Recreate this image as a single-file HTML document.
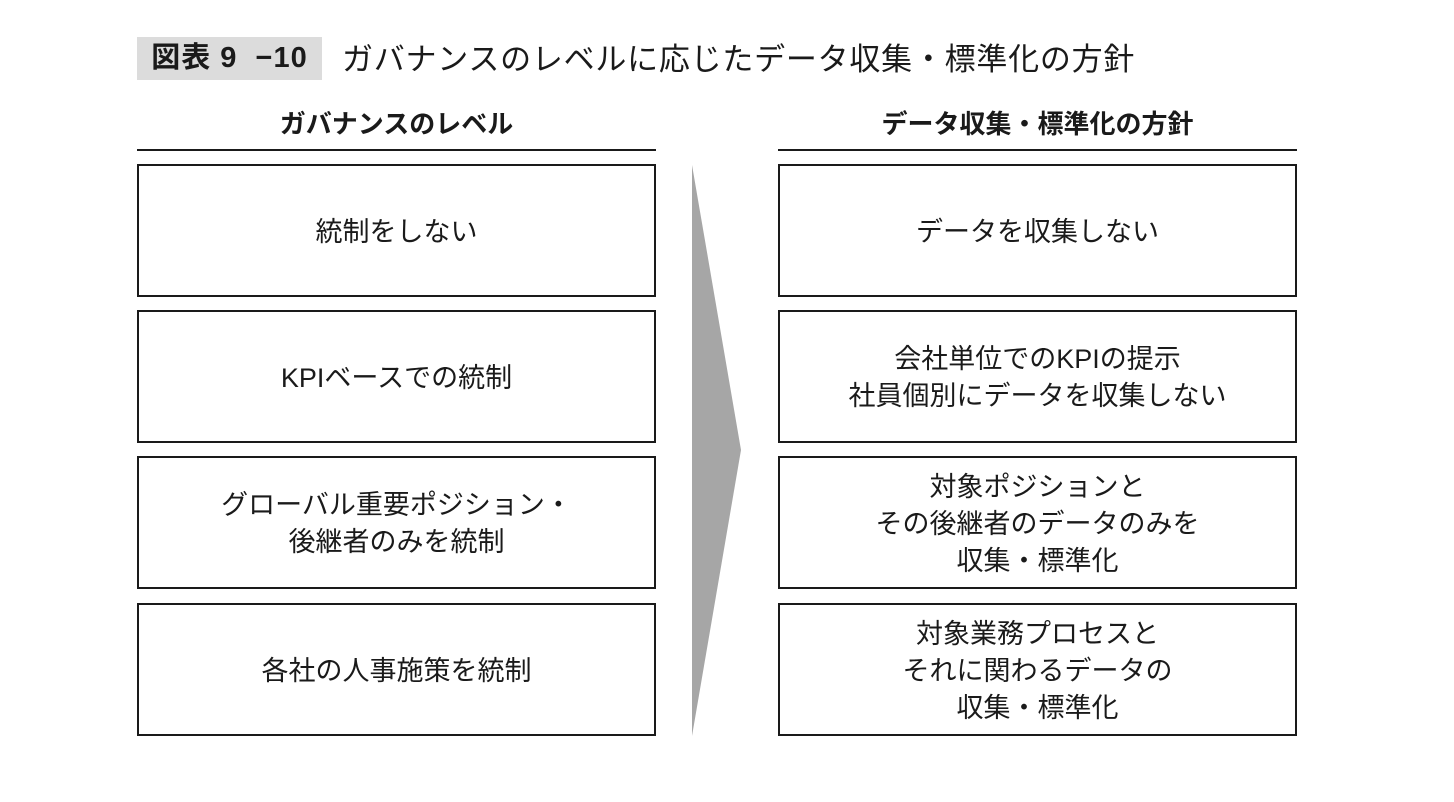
<!DOCTYPE html>
<html><head><meta charset="utf-8"><style>
body{margin:0;width:1454px;height:802px;background:#fff;position:relative;overflow:hidden;font-family:"Liberation Sans","Noto Sans CJK JP",sans-serif;color:#1a1a1a}
.a{position:absolute}
.tb{left:137px;top:37px;width:185px;height:43px;background:#dcdcdc;font-weight:bold;font-size:29px;line-height:43px;text-align:center;letter-spacing:1px;white-space:pre}
.tt{left:342px;top:38px;font-size:31px;line-height:43px;white-space:nowrap;letter-spacing:0.75px}
.h{font-weight:bold;font-size:26px;line-height:30px;text-align:center;top:109px;width:519px}
.ln{height:2px;background:#1a1a1a;top:149px;width:519px}
.box{width:515px;height:126px;padding-top:3px;border:2px solid #1a1a1a;display:flex;align-items:center;justify-content:center;text-align:center;font-size:27px;line-height:37px}
</style></head><body>
<div class="a tb">図表 9  −10</div>
<div class="a tt">ガバナンスのレベルに応じたデータ収集・標準化の方針</div>
<div class="a h" style="left:137px">ガバナンスのレベル</div>
<div class="a h" style="left:778px">データ収集・標準化の方針</div>
<div class="a ln" style="left:137px"></div>
<div class="a ln" style="left:778px"></div>
<div class="a box" style="left:137px;top:164px">統制をしない</div>
<div class="a box" style="left:137px;top:310px">KPIベースでの統制</div>
<div class="a box" style="left:137px;top:456px">グローバル重要ポジション・<br>後継者のみを統制</div>
<div class="a box" style="left:137px;top:603px">各社の人事施策を統制</div>
<div class="a box" style="left:778px;top:164px">データを収集しない</div>
<div class="a box" style="left:778px;top:310px">会社単位でのKPIの提示<br>社員個別にデータを収集しない</div>
<div class="a box" style="left:778px;top:456px">対象ポジションと<br>その後継者のデータのみを<br>収集・標準化</div>
<div class="a box" style="left:778px;top:603px">対象業務プロセスと<br>それに関わるデータの<br>収集・標準化</div>
<svg class="a" style="left:0;top:0" width="1454" height="802"><polygon points="692,165 741,450 692,736" fill="#a6a6a6"/></svg>
</body></html>
